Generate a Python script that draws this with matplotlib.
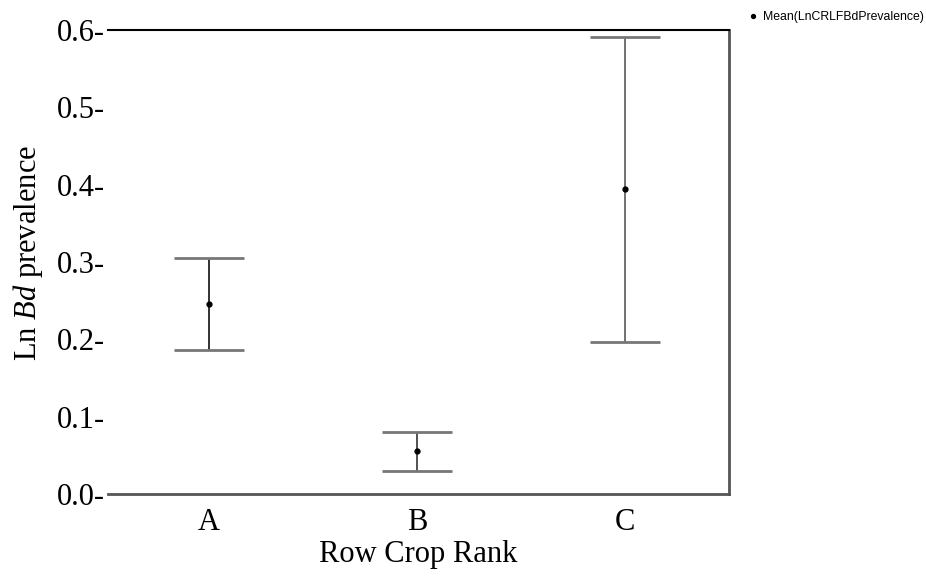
import matplotlib
matplotlib.use("Agg")
import matplotlib.pyplot as plt

# data
ranks = ["A", "B", "C"]
means = [0.246, 0.055, 0.394]
upper = [0.305, 0.080, 0.591]
lower = [0.186, 0.030, 0.197]

plt.rcParams['font.family'] = ['Liberation Serif', 'DejaVu Serif']
plt.rcParams['mathtext.fontset'] = 'custom'
plt.rcParams['mathtext.rm'] = 'Liberation Serif'
plt.rcParams['mathtext.it'] = 'Liberation Serif:italic'

fig = plt.figure(figsize=(9.26, 5.76), dpi=100)
ax = fig.add_axes([0.1166, 0.1424, 0.6706, 0.8056])

xs = list(range(len(ranks)))
line_cols = ['#222222', '#444444', '#666666']
for x, m, lo, hi, c in zip(xs, means, lower, upper, line_cols):
    ax.vlines(x, lo, hi, color=c, lw=1.3, zorder=2)
    ax.hlines([lo, hi], x - 0.168, x + 0.168, color='#777777', lw=2, zorder=2)
ax.plot(xs, means, 'o', color='black', ms=3.5, zorder=3,
        label='Mean(LnCRLFBdPrevalence)')

ax.set_xlim(-0.487, 2.5)
ax.set_ylim(0, 0.6)
ax.set_xticks(xs)
ax.set_xticklabels(ranks, fontsize=22)
yt = [0.0, 0.1, 0.2, 0.3, 0.4, 0.5, 0.6]
ax.set_yticks(yt)
ax.set_yticklabels(["%.1f-" % v for v in yt], fontsize=22)
ax.tick_params(length=0, pad=2)
ax.tick_params(axis='x', pad=10)

ax.spines['left'].set_visible(False)
ax.spines['top'].set_color('black')
ax.spines['top'].set_linewidth(1.5)
ax.spines['bottom'].set_color('#555555')
ax.spines['bottom'].set_linewidth(2)
ax.spines['right'].set_color('#555555')
ax.spines['right'].set_linewidth(2)

ax.set_xlabel("Row Crop Rank", fontsize=22, labelpad=2)
ax.set_ylabel(r"Ln $\mathit{Bd}$ prevalence", fontsize=22)
ax.yaxis.set_label_coords(-0.102, 0.52)

leg = fig.legend(loc='upper left', bbox_to_anchor=(0.795, 1.0), frameon=False,
                 prop={'family': 'Liberation Sans', 'size': 8.8},
                 handletextpad=0.3, handlelength=1.0, markerscale=0.8)

fig.savefig("out.png", dpi=100)
